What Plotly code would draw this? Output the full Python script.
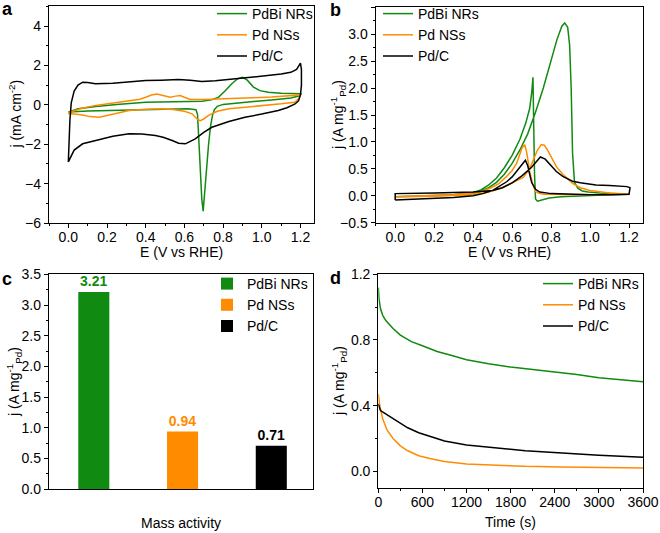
import plotly.graph_objects as go

W, H = 660, 533
FONT = "Liberation Sans, Arial, sans-serif"

names = ["PdBi NRs", "Pd NSs", "Pd/C"]
colors = ["#108a10", "#ff8c00", "#000000"]

# ---------------- panel a: CV in N2 (mA cm^-2) ----------------
a_E_pdbi = [0.0, 0.05, 0.142, 0.25, 0.40, 0.55, 0.69, 0.74, 0.777, 0.81, 0.845, 0.875, 0.90, 0.925, 0.957, 0.99, 1.034, 1.1, 1.17, 1.205,
            1.205, 1.19, 1.15, 1.05, 0.95, 0.85, 0.80, 0.77, 0.755, 0.745, 0.735, 0.725, 0.715, 0.705, 0.697, 0.69, 0.683, 0.677, 0.672, 0.668, 0.66, 0.62, 0.5, 0.35, 0.2, 0.1, 0.0]
a_j_pdbi = [-0.37, -0.2, -0.09, 0.02, 0.13, 0.16, 0.18, 0.25, 0.39, 0.7, 1.07, 1.32, 1.40, 1.25, 0.9, 0.72, 0.64, 0.58, 0.56, 0.56,
            0.56, 0.45, 0.35, 0.25, 0.17, 0.08, 0.02, -0.08, -0.25, -0.55, -1.1, -2.0, -3.2, -4.5, -5.4, -4.8, -3.6, -2.4, -1.2, -0.5, -0.25, -0.2, -0.22, -0.25, -0.28, -0.32, -0.37]

a_E_pdns = [0.0, 0.07, 0.142, 0.22, 0.31, 0.37, 0.40, 0.43, 0.458, 0.49, 0.526, 0.555, 0.578, 0.60, 0.63, 0.7, 0.83, 0.95, 1.05, 1.15, 1.2,
            1.2, 1.19, 1.17, 1.1, 1.0, 0.9, 0.83, 0.77, 0.725, 0.70, 0.682, 0.665, 0.64, 0.6, 0.54, 0.485, 0.4, 0.314, 0.24, 0.16, 0.11, 0.074, 0.03, 0.0]
a_j_pdns = [-0.4, -0.18, -0.03, 0.07, 0.17, 0.28, 0.38, 0.5, 0.55, 0.46, 0.39, 0.44, 0.47, 0.38, 0.27, 0.27, 0.3, 0.36, 0.4, 0.46, 0.5,
            0.5, 0.3, 0.13, 0.05, -0.03, -0.12, -0.2, -0.33, -0.54, -0.72, -0.8, -0.72, -0.46, -0.33, -0.24, -0.2, -0.22, -0.29, -0.45, -0.63, -0.6, -0.52, -0.47, -0.45]

a_E_pdc = [0.0, 0.003, 0.008, 0.015, 0.03, 0.05, 0.074, 0.1, 0.14, 0.23, 0.32, 0.40, 0.48, 0.57, 0.63, 0.69, 0.76, 0.83, 0.93, 1.03, 1.1, 1.15, 1.18, 1.2,
           1.205, 1.205, 1.2, 1.19, 1.17, 1.13, 1.085, 1.0, 0.913, 0.83, 0.742, 0.7, 0.656, 0.605, 0.57, 0.537, 0.49, 0.45, 0.38, 0.314, 0.23, 0.142, 0.074, 0.03, 0.005, 0.0]
a_j_pdc = [-2.9, -2.0, -0.8, 0.1, 0.7, 1.0, 1.15, 1.13, 1.07, 1.1, 1.17, 1.23, 1.25, 1.28, 1.24, 1.18, 1.22, 1.3, 1.38, 1.49, 1.56, 1.65, 1.8, 2.12,
           1.8, 1.0, 0.5, 0.2, 0.03, -0.15, -0.29, -0.47, -0.63, -0.85, -1.14, -1.4, -1.73, -1.98, -1.95, -1.81, -1.65, -1.56, -1.48, -1.47, -1.6, -1.81, -1.98, -2.3, -2.74, -2.9]

# ---------------- panel b: CV in ethanol (A mg^-1 Pd) ----------------
b_E_pdbi = [0.0, 0.1, 0.2, 0.3, 0.38, 0.43, 0.48, 0.52, 0.56, 0.6, 0.64, 0.68, 0.72, 0.76, 0.80, 0.83, 0.855, 0.87, 0.885, 0.895, 0.903, 0.91, 0.92, 0.937, 0.96, 0.99, 1.05, 1.12, 1.2,
            1.2, 1.1, 0.95, 0.85, 0.79, 0.76, 0.74, 0.73, 0.72, 0.715, 0.71, 0.707, 0.70, 0.69, 0.67, 0.64, 0.6, 0.56, 0.52, 0.48, 0.44, 0.4, 0.3, 0.2, 0.0]
b_j_pdbi = [-0.02, -0.01, 0.0, 0.01, 0.03, 0.07, 0.15, 0.25, 0.4, 0.6, 0.85, 1.15, 1.55, 2.0, 2.5, 2.9, 3.15, 3.21, 3.13, 2.8, 2.0, 0.8, 0.25, 0.14, 0.09, 0.07, 0.05, 0.04, 0.03,
            0.03, 0.02, 0.0, -0.02, -0.04, -0.07, -0.1, -0.1, -0.06, 0.4, 1.5, 2.2, 1.9, 1.62, 1.35, 1.05, 0.75, 0.52, 0.33, 0.2, 0.11, 0.06, 0.02, 0.0, -0.02]

b_E_pdns = [0.0, 0.2, 0.4, 0.48, 0.55, 0.6, 0.657, 0.69, 0.71, 0.73, 0.75, 0.765, 0.78, 0.8, 0.827, 0.86, 0.91, 0.95, 1.0, 1.1, 1.2,
            1.2, 1.0, 0.85, 0.76, 0.735, 0.72, 0.705, 0.69, 0.675, 0.665, 0.65, 0.623, 0.6, 0.572, 0.53, 0.487, 0.44, 0.4, 0.3, 0.15, 0.0]
b_j_pdns = [-0.02, -0.01, 0.02, 0.07, 0.15, 0.24, 0.34, 0.5, 0.66, 0.85, 0.95, 0.94, 0.86, 0.72, 0.54, 0.4, 0.23, 0.15, 0.1, 0.05, 0.03,
            0.03, 0.02, 0.02, 0.03, 0.05, 0.08, 0.22, 0.45, 0.8, 0.95, 0.88, 0.6, 0.47, 0.36, 0.22, 0.14, 0.08, 0.05, 0.02, 0.0, -0.02]

b_E_pdc = [0.0, 0.0, 0.2, 0.4, 0.5, 0.55, 0.6, 0.65, 0.7, 0.725, 0.745, 0.77, 0.8, 0.827, 0.86, 0.91, 0.95, 1.03, 1.1, 1.19, 1.205,
           1.205, 1.2, 1.1, 1.0, 0.8, 0.742, 0.72, 0.70, 0.69, 0.68, 0.668, 0.655, 0.623, 0.6, 0.572, 0.53, 0.5, 0.45, 0.4, 0.3, 0.2, 0.1, 0.0]
b_j_pdc = [-0.08, 0.04, 0.05, 0.07, 0.1, 0.15, 0.24, 0.37, 0.53, 0.64, 0.72, 0.68, 0.56, 0.45, 0.36, 0.27, 0.24, 0.2, 0.19, 0.17, 0.15,
           0.15, 0.03, 0.02, 0.02, 0.04, 0.07, 0.12, 0.25, 0.4, 0.56, 0.66, 0.6, 0.45, 0.35, 0.26, 0.16, 0.1, 0.04, 0.0, -0.03, -0.05, -0.07, -0.08]

# ---------------- panel c: mass activity ----------------
c_categories = ["PdBi NRs", "Pd NSs", "Pd/C"]
c_values = [3.21, 0.94, 0.71]

# ---------------- panel d: chronoamperometry ----------------
d_t_pdbi = [0, 10, 30, 60, 100, 200, 300, 450, 600, 800, 1000, 1200, 1500, 1800, 2100, 2400, 2700, 3000, 3300, 3600]
d_j_pdbi = [1.12, 1.05, 0.99, 0.95, 0.92, 0.87, 0.83, 0.79, 0.765, 0.73, 0.705, 0.68, 0.655, 0.635, 0.62, 0.605, 0.59, 0.57, 0.558, 0.545]
d_t_pdns = [0, 20, 60, 120, 200, 300, 400, 550, 700, 900, 1200, 1600, 2000, 2500, 3000, 3600]
d_j_pdns = [0.47, 0.40, 0.32, 0.25, 0.20, 0.155, 0.125, 0.095, 0.078, 0.06, 0.045, 0.036, 0.03, 0.026, 0.023, 0.02]
d_t_pdc = [0, 30, 100, 250, 400, 550, 700, 900, 1200, 1600, 2000, 2500, 3000, 3600]
d_j_pdc = [0.41, 0.37, 0.35, 0.31, 0.265, 0.235, 0.212, 0.185, 0.16, 0.141, 0.125, 0.111, 0.097, 0.086]

fig = go.Figure()

def add_lines(xs, ys, ax, legend):
    for i, (x, y) in enumerate(zip(xs, ys)):
        fig.add_trace(go.Scatter(x=x, y=y, mode="lines", name=names[i],
                                 line=dict(color=colors[i], width=1.5),
                                 xaxis="x" + ax, yaxis="y" + ax, legend=legend))

add_lines([a_E_pdbi, a_E_pdns, a_E_pdc], [a_j_pdbi, a_j_pdns, a_j_pdc], "", "legend")
add_lines([b_E_pdbi, b_E_pdns, b_E_pdc], [b_j_pdbi, b_j_pdns, b_j_pdc], "2", "legend2")
for i, (cat, v) in enumerate(zip(c_categories, c_values)):
    fig.add_trace(go.Bar(x=[cat], y=[v], name=names[i], width=0.35,
                         marker=dict(color=colors[i], line=dict(width=0)),
                         texttemplate="<b>%{y:.2f}</b>", textposition="outside",
                         textfont=dict(color=colors[i], size=14, family=FONT),
                         cliponaxis=False, xaxis="x3", yaxis="y3", legend="legend3"))
add_lines([d_t_pdbi, d_t_pdns, d_t_pdc], [d_j_pdbi, d_j_pdns, d_j_pdc], "4", "legend4")

def px_dom(p0, p1, total):
    return [p0 / total, p1 / total]

def py_dom(top, bottom):
    return [1 - bottom / H, 1 - top / H]

common = dict(showline=True, mirror=True, linecolor="black", linewidth=1.3, automargin=False,
              showgrid=False, zeroline=False, ticks="outside", ticklen=4, tickwidth=1.2,
              tickcolor="black", tickfont=dict(size=14, color="black", family=FONT))
xcommon = dict(common, ticklabelstandoff=-3)

def minor(d):
    return dict(ticks="outside", ticklen=2, tickwidth=1, tickcolor="black", dtick=d)

fig.update_layout(
    template="none",
    width=W, height=H, margin=dict(l=0, r=0, t=0, b=0, autoexpand=False),
    paper_bgcolor="white", plot_bgcolor="white",
    font=dict(family=FONT, size=14, color="black"),
    barmode="overlay", showlegend=True,
    xaxis=dict(domain=px_dom(49, 314, W), range=[-0.1, 1.27], dtick=0.2, tick0=0, tickformat=".1f",
               minor=minor(0.1), anchor="y", **xcommon),
    yaxis=dict(domain=py_dom(6.3, 223), range=[-6, 5], dtick=2, tick0=0,
               minor=minor(1), anchor="x", **common),
    xaxis2=dict(domain=px_dom(375.7, 642.7, W), range=[-0.1, 1.27], dtick=0.2, tick0=0, tickformat=".1f",
                minor=minor(0.1), anchor="y2", **xcommon),
    yaxis2=dict(domain=py_dom(7.3, 222.7), range=[-0.5, 3.5], dtick=0.5, tick0=0, tickformat=".1f",
                minor=minor(0.25), anchor="x2", **common),
    xaxis3=dict(domain=px_dom(49, 313, W), type="category", range=[-0.505, 2.47], automargin=False,
                showline=True, mirror=True, linecolor="black", linewidth=1.3, showgrid=False,
                zeroline=False, ticks="", showticklabels=False, anchor="y3"),
    yaxis3=dict(domain=py_dom(274.3, 489.3), range=[0, 3.5], dtick=0.5, tick0=0, tickformat=".1f",
                minor=minor(0.25), anchor="x3", **common),
    xaxis4=dict(domain=px_dom(378.3, 643, W), range=[0, 3600], dtick=600, tick0=0,
                minor=minor(300), anchor="y4", **xcommon),
    yaxis4=dict(domain=py_dom(274.3, 487.7), range=[-0.1, 1.2], dtick=0.4, tick0=0, tickformat=".1f",
                minor=minor(0.2), anchor="x4", **common),
)

leg_common = dict(bgcolor="rgba(0,0,0,0)", borderwidth=0, font=dict(size=14, family=FONT, color="black"),
                  xanchor="left", yanchor="top", tracegroupgap=0, itemwidth=30)
fig.update_layout(
    legend=dict(x=212 / W, y=1 + 2 / H, **leg_common),
    legend2=dict(x=378 / W, y=1 + 2 / H, **leg_common),
    legend3=dict(x=207 / W, y=1 - 268 / H, **leg_common),
    legend4=dict(x=538 / W, y=1 - 268 / H, **leg_common),
)

def ann(text, xp, yp, size=14, bold=False, angle=0):
    fig.add_annotation(text=("<b>%s</b>" % text) if bold else text,
                       x=xp / W, y=1 - yp / H, xref="paper", yref="paper",
                       xanchor="center", yanchor="middle", showarrow=False,
                       textangle=angle, font=dict(size=size, family=FONT, color="black"))

ann("E (V vs RHE)", 181.5, 252)
ann("E (V vs RHE)", 509, 252)
ann("Mass activity", 181, 523)
ann("Time (s)", 510.7, 522)
ann("j (mA cm<sup>-2</sup>)", 15, 114.6, angle=-90)
ann("j (A mg<sup>-1</sup><sub>Pd</sub>)", 338, 115, angle=-90)
ann("j (A mg<sup>-1</sup><sub>Pd</sub>)", 14, 382, angle=-90)
ann("j (A mg<sup>-1</sup><sub>Pd</sub>)", 339, 381, angle=-90)
ann("a", 7.5, 9, size=18, bold=True)
ann("b", 335, 10, size=18, bold=True)
ann("c", 7, 279, size=18, bold=True)
ann("d", 335, 277.5, size=18, bold=True)

fig.write_html("out.html", config={"displayModeBar": False},
               post_script="document.body.style.margin='0px';")
